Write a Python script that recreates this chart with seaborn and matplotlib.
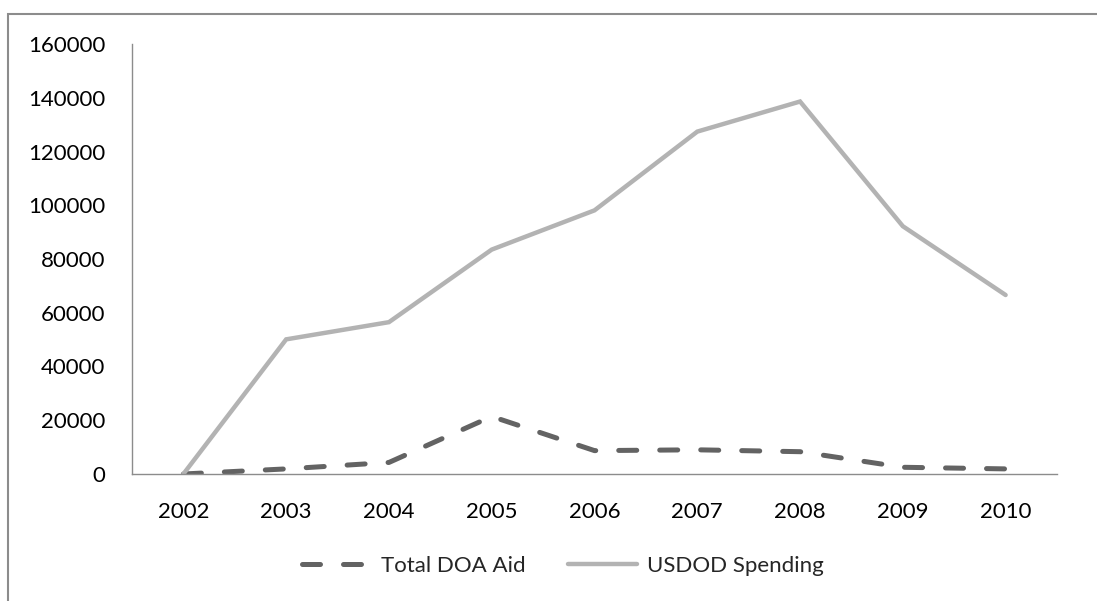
import matplotlib
matplotlib.use("Agg")
import matplotlib.pyplot as plt
import seaborn as sns
import pandas as pd
from matplotlib.patches import Rectangle
from matplotlib.lines import Line2D

years = [2002, 2003, 2004, 2005, 2006, 2007, 2008, 2009, 2010]
doa_aid = [0, 1900, 4300, 21400, 8700, 9000, 8300, 2500, 1900]
usdod_spending = [0, 50100, 56500, 83500, 98100, 127400, 138600, 92200, 66600]
series_names = ["Total DOA Aid", "USDOD Spending"]
yticks = [0, 20000, 40000, 60000, 80000, 100000, 120000, 140000, 160000]

df = pd.DataFrame({
    "Year": years * 2,
    "Value": doa_aid + usdod_spending,
    "Series": [series_names[0]] * len(years) + [series_names[1]] * len(years),
})

DOA_COLOR = "#636363"
USD_COLOR = "#b3b3b3"
DOA_LW = 3.6
USD_LW = 3.2
DOA_DASH = (3.6, 4.6)

sns.set_theme(style="white")
plt.rcParams["font.family"] = ["Lato", "DejaVu Sans"]

fig = plt.figure(figsize=(10.97, 6.01), dpi=100)
ax = fig.add_axes([132 / 1097, 1 - 474 / 601, (1057 - 132) / 1097, (474 - 44) / 601])

sns.lineplot(data=df, x="Year", y="Value", hue="Series", style="Series",
             palette={series_names[0]: DOA_COLOR, series_names[1]: USD_COLOR},
             dashes={series_names[0]: DOA_DASH, series_names[1]: ""},
             ax=ax, legend=False)
for line, lw in zip(ax.lines, [DOA_LW, USD_LW]):
    line.set_linewidth(lw)
    line.set_dash_capstyle("round")
    line.set_solid_capstyle("round")
    line.set_solid_joinstyle("miter")

ax.set_xlim(years[0] - 0.5, years[-1] + 0.5)
ax.set_ylim(0, 160000)
ax.set_xticks(years)
ax.set_xticklabels([str(y) for y in years])
ax.set_yticks(yticks)
ax.set_yticklabels([str(v) for v in yticks])
ax.set_xlabel("")
ax.set_ylabel("")
ax.tick_params(axis="both", length=0, labelsize=16, colors="black")
ax.tick_params(axis="y", pad=19)
ax.tick_params(axis="x", pad=20)
for s in ["top", "right"]:
    ax.spines[s].set_visible(False)
for s in ["left", "bottom"]:
    ax.spines[s].set_color("#8c8c8c")
    ax.spines[s].set_linewidth(1.0)

handles = [
    Line2D([], [], color=DOA_COLOR, lw=DOA_LW, dashes=DOA_DASH, dash_capstyle="round"),
    Line2D([], [], color=USD_COLOR, lw=USD_LW, solid_capstyle="round"),
]
fig.legend(handles, series_names, loc="center", bbox_to_anchor=(0.513, 1 - 566 / 601),
           ncol=2, frameon=False, fontsize=16, handlelength=3.1, handletextpad=0.45,
           columnspacing=1.9)

fig.add_artist(Rectangle((8 / 1097, -0.1), 2.0, (601 - 14) / 601 + 0.1,
                         transform=fig.transFigure, fill=False,
                         edgecolor="#8c8c8c", linewidth=1.5))

fig.savefig("out.png", dpi=100, facecolor="white")
